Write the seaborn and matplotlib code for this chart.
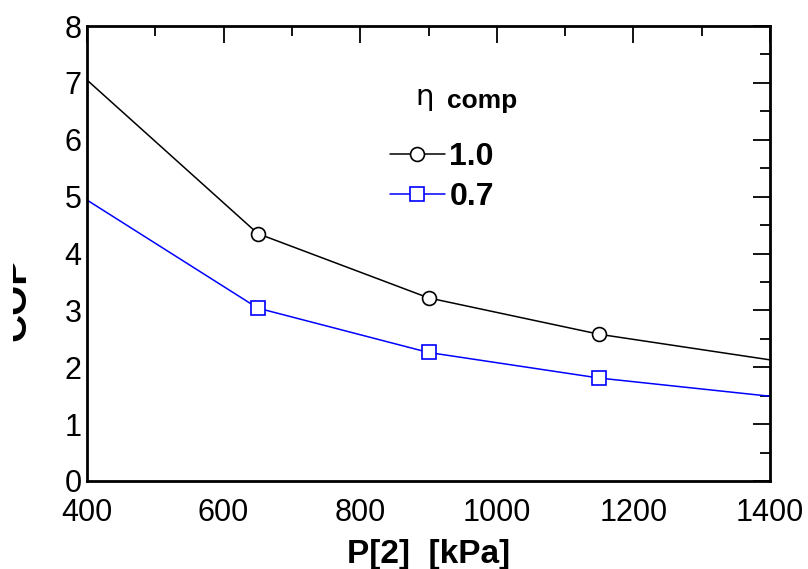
import numpy as np
import pandas as pd
import matplotlib
matplotlib.use("Agg")
import matplotlib.pyplot as plt
import seaborn as sb
from matplotlib.ticker import MultipleLocator
from matplotlib.transforms import Bbox

# values
p2 = [400, 650, 900, 1150, 1400]
cop_eta_10 = [7.05, 4.35, 3.22, 2.58, 2.13]
cop_eta_07 = [4.94, 3.04, 2.26, 1.81, 1.49]
eta_labels = ["1.0", "0.7"]

sb.set_style("white")
plt.rcParams["font.family"] = ["Liberation Sans", "DejaVu Sans"]
plt.rcParams["text.color"] = "black"
plt.rcParams["axes.labelcolor"] = "black"
plt.rcParams["xtick.color"] = "black"
plt.rcParams["ytick.color"] = "black"

df = pd.DataFrame({
    "P2": p2 * 2,
    "COP": cop_eta_10 + cop_eta_07,
    "eta": [eta_labels[0]] * len(p2) + [eta_labels[1]] * len(p2),
})

fig = plt.figure(figsize=(8.08, 5.69), dpi=100)
ax = fig.add_axes([87 / 808, 1 - 481 / 569, 683 / 808, 455 / 569])

styles = {"1.0": ("black", "o"), "0.7": ("#0000ff", "s")}
for lab in eta_labels:
    color, mk = styles[lab]
    sub = df[df["eta"] == lab]
    sb.lineplot(data=sub, x="P2", y="COP", ax=ax, color=color, marker=mk,
                markevery=[1, 2, 3], markersize=10, markerfacecolor="white",
                markeredgecolor=color, markeredgewidth=1.2, linewidth=1.1,
                label=lab)

ax.set_xlim(400, 1400)
ax.set_ylim(0, 8)
ax.xaxis.set_major_locator(MultipleLocator(200))
ax.xaxis.set_minor_locator(MultipleLocator(100))
ax.yaxis.set_major_locator(MultipleLocator(1))
ax.yaxis.set_minor_locator(MultipleLocator(0.5))
ax.tick_params(which="both", direction="in", right=True, top=True,
               labelsize=22, width=1.3, color="black")
ax.tick_params(axis="y", pad=4)
ax.tick_params(axis="x", pad=12)
ax.tick_params(which="major", length=12)
ax.tick_params(which="minor", length=7)
for s in ax.spines.values():
    s.set_linewidth(2)
    s.set_color("black")

ax.set_xlabel("P[2]  [kPa]", fontsize=24, fontweight="bold", labelpad=8)
ax.set_ylabel("")
# the y label is partly cut off at the left in the reference
ylab = fig.text(33 / 808, 1 - 299 / 569, "COP", rotation=90, ha="right",
                va="center", fontsize=28, fontweight="bold", clip_on=True)
ylab.set_clip_box(Bbox([[13, 0], [808, 569]]))

leg = ax.legend(loc="center left", bbox_to_anchor=(0.443, 0.668), frameon=False,
                handlelength=1.72, handletextpad=0.15, labelspacing=0.3,
                borderpad=0, borderaxespad=0,
                prop={"size": 23, "weight": "bold"})
ax.text((425 - 87) / 683, (481 - 105) / 455, "η", transform=ax.transAxes,
        ha="center", va="baseline", fontsize=21, family="DejaVu Sans")
ax.text((447 - 87) / 683, (481 - 108) / 455, "comp", transform=ax.transAxes,
        ha="left", va="baseline", fontsize=19, fontweight="bold")

fig.savefig("out.png", dpi=100)
